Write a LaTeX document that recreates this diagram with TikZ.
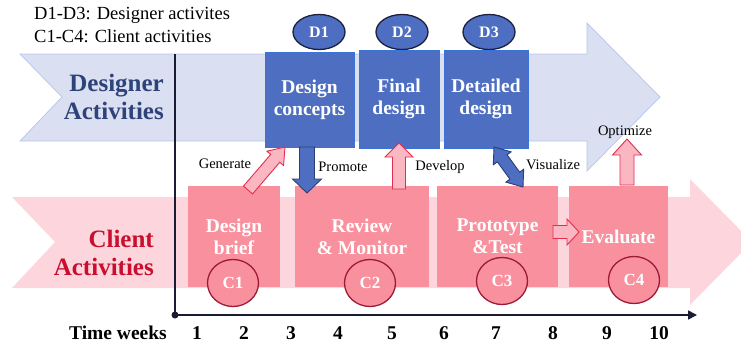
\documentclass[tikz,border=0pt]{standalone}
\usepackage{fontspec}
\newfontfamily\mainserif{Liberation Serif}
\usetikzlibrary{calc,arrows.meta,shapes.geometric}

\definecolor{designband}{HTML}{DAE0F1}
\definecolor{designedge}{HTML}{B7C5EA}
\definecolor{clientband}{HTML}{FDD6DD}
\definecolor{dbox}{HTML}{4D6EC1}
\definecolor{dboxedge}{HTML}{3B72DA}
\definecolor{dringc}{HTML}{1C1F3D}
\definecolor{cbox}{HTML}{F9909E}
\definecolor{cringc}{HTML}{9D1A36}
\definecolor{parrow}{HTML}{FBB7C1}
\definecolor{parrowedge}{HTML}{E52E4E}
\definecolor{barrowedge}{HTML}{2C3F73}
\definecolor{designtext}{HTML}{2E4379}
\definecolor{clienttext}{HTML}{C8102E}
\definecolor{axiscol}{HTML}{1B1B34}

% block arrow: #1 style, #2 tail, #3 tip, #4 shaft half-width, #5 head half-width, #6 head length
\newcommand\blockarrow[6]{%
  \coordinate (ba-b) at ($(#3)!#6!(#2)$);
  \draw[#1] ($(#2)!#4!90:(#3)$) -- ($(ba-b)!#4!90:(#3)$) -- ($(ba-b)!#5!90:(#3)$)
    -- (#3) -- ($(ba-b)!#5!-90:(#3)$) -- ($(ba-b)!#4!-90:(#3)$) -- ($(#2)!#4!-90:(#3)$) -- cycle;}
% double-headed block arrow between #2 and #3
\newcommand\blockarrowboth[6]{%
  \coordinate (ba-b) at ($(#3)!#6!(#2)$);
  \coordinate (ba-c) at ($(#2)!#6!(#3)$);
  \draw[#1] (#2) -- ($(ba-c)!#5!-90:(#3)$) -- ($(ba-c)!#4!-90:(#3)$) -- ($(ba-b)!#4!-90:(#3)$)
    -- ($(ba-b)!#5!-90:(#3)$) -- (#3) -- ($(ba-b)!#5!90:(#3)$) -- ($(ba-b)!#4!90:(#3)$)
    -- ($(ba-c)!#4!90:(#3)$) -- ($(ba-c)!#5!90:(#3)$) -- cycle;}

\begin{document}
\begin{tikzpicture}[x=1pt,y=-1pt,
  dboxst/.style={draw=dboxedge, line width=1pt, fill=dbox, text=white, align=center,
    inner sep=0pt, font=\mainserif\bfseries\fontsize{19.5}{22}\selectfont},
  cboxst/.style={fill=cbox, text=white, align=center, inner sep=0pt,
    font=\mainserif\bfseries\fontsize{19.5}{22}\selectfont},
  dring/.style={ellipse, draw=dringc, line width=1.3pt, fill=dbox, minimum width=52pt,
    minimum height=35pt, inner sep=0pt, text=white, font=\mainserif\bfseries\fontsize{16}{16}\selectfont},
  cring/.style={ellipse, draw=cringc, line width=1.3pt, fill=cbox, minimum width=51pt,
    minimum height=47pt, inner sep=0pt, text=white, font=\mainserif\bfseries\fontsize{17}{17}\selectfont},
  parr/.style={fill=parrow, draw=parrowedge, line width=0.9pt, line join=miter},
  barr/.style={fill=dbox, draw=barrowedge, line width=0.9pt, line join=miter},
  lab/.style={font=\mainserif\fontsize{14.5}{16}\selectfont, inner sep=0pt},
  tick/.style={font=\mainserif\bfseries\fontsize{19.5}{20}\selectfont, inner sep=0pt},
  lanetitle/.style={font=\mainserif\bfseries\fontsize{25}{28.5}\selectfont, align=right, inner sep=0pt, anchor=east}]

\useasboundingbox (0,0) rectangle (741,346);

% legend
\node[font=\mainserif\fontsize{18.5}{23}\selectfont, align=left, anchor=north west, inner sep=0pt] (legend)
  at (34,7) {D1-D3: Designer activites\\C1-C4: Client activities};

% swim-lane arrows
\draw[fill=designband, draw=designedge, line width=0.7pt]
  (20,54) -- (587,54) -- (587,23) -- (660,97) -- (587,171) -- (587,141) -- (20,141) -- (62,97) -- cycle;
\fill[clientband]
  (12,197) -- (690,197) -- (690,179) -- (752,242) -- (690,305) -- (690,288) -- (12,288) -- (55,242) -- cycle;

\node[lanetitle, text=designtext] (dtitle) at (164,97) {Designer\\Activities};
\node[lanetitle, text=clienttext] (ctitle) at (154,253) {Client\\Activities};

% time axis
\coordinate (origin) at (175,315);
\coordinate (ytop) at (175,54);
\coordinate (xend) at (697,315);
\draw[axiscol, line width=1.6pt] (ytop) -- (origin);
\draw[axiscol, line width=1.6pt, -{Triangle[length=9pt,width=9pt]}] (origin) -- (xend);
\fill[axiscol] (origin) circle (3.5);

\node[tick, anchor=east] (tw) at (167,333) {Time weeks};
\foreach \n/\x in {1/197,2/244,3/291,4/338,5/392,6/444,7/496,8/553,9/607,10/659}
  \node[tick] (w\n) at (\x,333) {\n};

% designer activities
\node[dring] (d1c) at (319,32) {D1};
\node[dring] (d2c) at (402,32) {D2};
\node[dring] (d3c) at (489,32) {D3};
\node[dboxst, minimum width=89pt, minimum height=95pt] (d1) at (309.5,99.5) {Design\\concepts};
\node[dboxst, minimum width=80pt, minimum height=98pt] (d2) at (399,99) {Final\\design};
\node[dboxst, minimum width=84pt, minimum height=98pt] (d3) at (486,99) {Detailed\\design};

% client activities
\node[cboxst, minimum width=92pt, minimum height=101pt] (c1) at (234,236.5) {Design\\brief};
\node[cboxst, minimum width=134pt, minimum height=101pt] (c2) at (362,236.5) {Review\\\& Monitor};
\node[cboxst, minimum width=121pt, minimum height=101pt] (c3) at (497.5,236.5) {Prototype\\\&Test};
\node[cboxst, minimum width=99pt, minimum height=101pt] (c4) at (618.5,236.5) {Evaluate};
\node[cring] (c1c) at (233,283) {C1};
\node[cring] (c2c) at (370,283) {C2};
\node[cring] (c3c) at (502,281) {C3};
\node[cring] (c4c) at (634,280) {C4};

% hand-offs between the lanes
\coordinate (gen-t) at (248,190);
\coordinate (gen-h) at (285,147);
\coordinate (pro-t) at (307,147);
\coordinate (pro-h) at (307,193);
\coordinate (dev-t) at (399,189);
\coordinate (dev-h) at (399,143);
\coordinate (vis-a) at (494,147);
\coordinate (vis-b) at (523,187);
\coordinate (opt-t) at (627,185);
\coordinate (opt-h) at (627,139);
\coordinate (eva-t) at (553,232);
\coordinate (eva-h) at (579,232);

\blockarrow{parr}{gen-t}{gen-h}{6pt}{11pt}{15pt}
\blockarrow{barr}{pro-t}{pro-h}{7.5pt}{14.5pt}{14pt}
\blockarrow{parr}{dev-t}{dev-h}{6.5pt}{14pt}{14pt}
\blockarrowboth{barr}{vis-a}{vis-b}{6pt}{11pt}{14pt}
\blockarrow{parr}{opt-t}{opt-h}{7pt}{14.5pt}{16pt}
\blockarrow{parr}{eva-t}{eva-h}{6.5pt}{13pt}{12pt}

\node[lab] (lgen) at (225,164) {Generate};
\node[lab] (lpro) at (343,167) {Promote};
\node[lab] (ldev) at (440,167) {Develop};
\node[lab] (lvis) at (553,165) {Visualize};
\node[lab] (lopt) at (625,132) {Optimize};

\end{tikzpicture}
\end{document}
